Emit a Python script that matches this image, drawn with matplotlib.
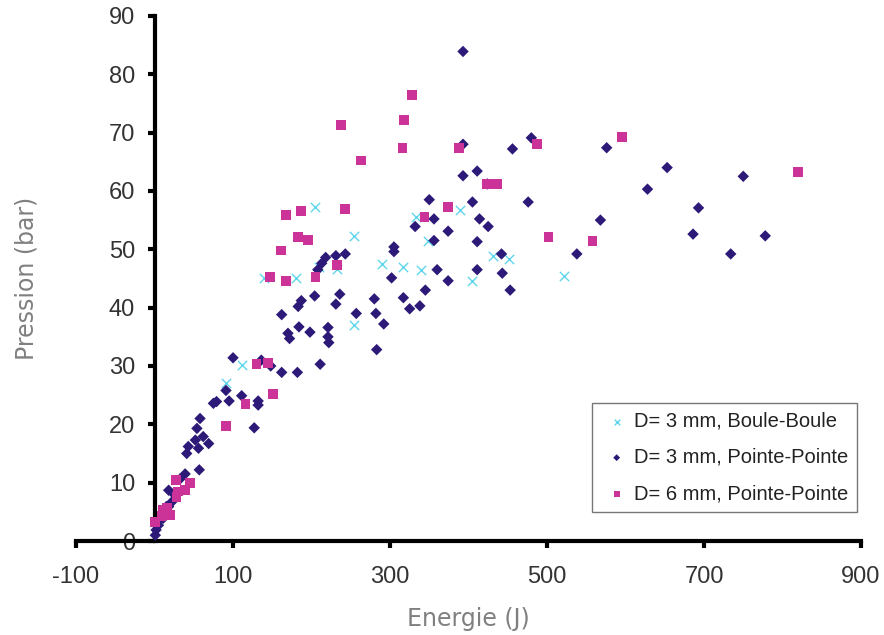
import matplotlib
matplotlib.use("Agg")
import matplotlib.pyplot as plt

plt.rcParams["font.family"] = ["Liberation Sans", "DejaVu Sans"]
plt.rcParams["axes.unicode_minus"] = False

# D= 3 mm, Boule-Boule
bb_x = [91, 111, 140, 180, 205, 209, 232, 254, 254, 290, 317, 333, 339, 349,
        389, 405, 431, 452, 521]
bb_y = [27.0, 30.2, 45.0, 45.0, 57.2, 47.0, 46.7, 52.3, 37.0, 47.5, 47.0, 55.5, 46.5, 51.5,
        56.7, 44.6, 48.9, 48.3, 45.4]

# D= 3 mm, Pointe-Pointe
pp3_x = [1, 2, 5, 7, 11, 11, 15, 18, 22, 18, 25, 33, 39, 57, 41, 43, 56, 52, 62, 69, 54, 58,
         75, 79, 91, 95, 100, 111, 127, 132, 132, 136, 148, 162, 182, 211, 283,
         170, 172, 198, 221, 222, 184, 221, 162, 183, 187, 204, 231, 236, 257, 280,
         282, 292, 317, 325, 338, 345, 208, 213, 218, 231, 243, 302, 305, 305,
         332, 350, 356, 356, 374, 360, 374, 393, 393, 393, 405, 411, 414, 411, 411,
         424, 425, 442, 443, 453, 456, 476, 480, 538, 568, 576, 628, 653, 686, 693,
         734, 750, 778]
pp3_y = [1.0, 1.9, 2.7, 3.6, 3.9, 4.7, 5.9, 5.9, 6.7, 8.7, 8.0, 10.7, 11.5, 12.2, 15.0, 16.2,
         15.9, 17.3, 17.9, 16.7, 19.3, 21.0,
         23.6, 23.9, 25.8, 24.0, 31.4, 24.9, 19.4, 24.0, 23.3, 31.0, 30.0, 28.9, 28.9, 30.3, 32.8,
         35.6, 34.7, 35.8, 35.0, 34.0, 36.7, 36.6, 38.8, 40.2, 41.2, 42.0, 40.6, 42.3, 39.0, 41.5,
         39.0, 37.2, 41.7, 39.8, 40.3, 43.0, 46.5, 47.6, 48.6, 48.9, 49.2, 45.1, 50.4, 49.6,
         53.9, 58.5, 55.2, 51.5, 53.1, 46.5, 44.6, 62.6, 68.0, 83.9, 58.1, 63.4, 55.2, 51.3, 46.5,
         61.2, 53.9, 49.2, 45.9, 43.0, 67.2, 58.1, 69.1, 49.2, 55.0, 67.4, 60.3, 64.0, 52.6, 57.1,
         49.2, 62.5, 52.3]

# D= 6 mm, Pointe-Pointe
pp6_x = [1, 9, 11, 16, 20, 28, 30, 27, 45, 39,
         91, 116, 130, 145, 151, 147, 167, 161, 183, 196, 167, 187, 205, 232, 238, 243,
         263, 316, 318, 328, 344, 374, 388, 424, 436, 487, 502, 558, 595, 820]
pp6_y = [3.3, 4.3, 5.3, 5.6, 4.5, 7.5, 8.5, 10.5, 9.9, 8.7,
         19.7, 23.5, 30.3, 30.5, 25.2, 45.3, 44.6, 49.8, 52.1, 51.6, 55.9, 56.6, 45.3, 47.3, 71.3, 56.9,
         65.2, 67.3, 72.2, 76.5, 55.5, 57.2, 67.3, 61.2, 61.2, 68.0, 52.1, 51.4, 69.3, 63.3]

x_ticks = [-100, 100, 300, 500, 700, 900]
y_ticks = list(range(0, 91, 10))

fig = plt.figure(figsize=(8.84, 6.35), dpi=100)
ax = fig.add_axes([0.086, 0.148, 0.888, 0.827])

ax.scatter(bb_x, bb_y, marker="x", s=45, color="#5fd6ec", linewidths=1.0,
           label="D= 3 mm, Boule-Boule", zorder=3)
ax.scatter(pp3_x, pp3_y, marker="D", s=34, color="#2d1a78", edgecolors="none",
           label="D= 3 mm, Pointe-Pointe", zorder=4)
ax.scatter(pp6_x, pp6_y, marker="s", s=50, color="#cc3399", edgecolors="none",
           label="D= 6 mm, Pointe-Pointe", zorder=5)

ax.set_xlim(-100, 900)
ax.set_ylim(0, 90)
ax.set_xticks(x_ticks)
ax.set_yticks(y_ticks)

ax.spines["left"].set_position(("data", 0))
ax.spines["right"].set_visible(False)
ax.spines["top"].set_visible(False)
for s in ("left", "bottom"):
    ax.spines[s].set_linewidth(3)
    ax.spines[s].set_color("black")
    ax.spines[s].set_zorder(2)

ax.tick_params(axis="both", direction="out", length=5, width=3, color="black",
               labelsize=17, labelcolor="#333333")
ax.tick_params(axis="x", pad=13)
ax.tick_params(axis="y", pad=9)

ax.set_xlabel("Energie (J)", fontsize=17, color="#808080", labelpad=14,
              family=["DejaVu Sans"])
ax.set_ylabel("Pression (bar)", fontsize=17, color="#808080",
              family=["DejaVu Sans"])
ax.yaxis.set_label_coords(-0.048, 0.5)

leg = ax.legend(loc="lower right", bbox_to_anchor=(0.995, 0.055), fontsize=14.5,
                markerscale=0.6, handletextpad=0.1, borderpad=0.45, labelspacing=0.85,
                frameon=True, fancybox=False, edgecolor="#555555", handlelength=1.5,
                borderaxespad=0)
leg.get_frame().set_linewidth(1)
for t in leg.get_texts():
    t.set_color("#222222")

fig.savefig("out.png", dpi=100)
